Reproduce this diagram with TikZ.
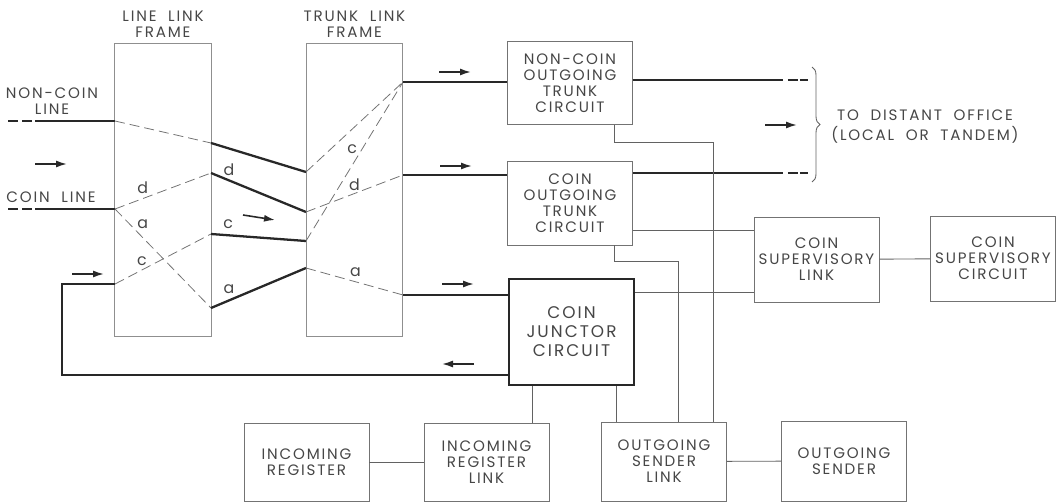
\documentclass[tikz,border=0pt]{standalone}
\usepackage{fontspec}
\setmainfont{Poppins}[LetterSpace=12,WordSpace=2]
\usetikzlibrary{arrows.meta,positioning,calc,decorations.pathreplacing}
\definecolor{inkdark}{RGB}{40,40,40}
\definecolor{inkgray}{RGB}{115,115,115}
\definecolor{inktext}{RGB}{70,70,70}
\tikzset{
  blk/.style={rectangle,draw=inkgray,line width=0.5pt,minimum width=25mm,
              minimum height=#1,inner sep=0pt,text=inktext,align=center,
              font=\fontsize{8.6}{9.2}\selectfont},
  blk/.default=16.5mm,
  bay/.style={rectangle,draw=inkgray!80,line width=0.45pt,minimum width=19.3mm,
              minimum height=58.6mm,inner sep=0pt},
  hdr/.style={text=inktext,align=center,inner sep=0pt,
              font=\fontsize{8.6}{9}\selectfont},
  wire/.style={inkdark,line width=1.3pt},
  xconn/.style={inkgray,line width=0.45pt,dash pattern=on 2mm off 1mm},
  link/.style={inkgray!85!black,line width=0.5pt},
  flow/.style={-{Latex[length=2.2mm,width=1.4mm]},inkdark,line width=0.9pt},
  tag/.style={text=inktext,inner sep=0pt,font=\fontsize{9}{9}\selectfont},
  lead/.style={wire,dash pattern=on 2mm off 0.8mm on 2mm off 0.6mm on 40mm},
  trail/.style={wire,dash pattern=on 30mm off 1mm on 2mm off 0.4mm on 1.6mm},
}
\begin{document}
\begin{tikzpicture}[x=0.2mm,y=-0.2mm]
  \useasboundingbox (0,0) rectangle (1058,502);

  % switching frames
  \node[bay] (llf) at (163,189.5) {};
  \node[bay] (tlf) at (354.5,189.5) {};
  \node[hdr,above=0.9mm of llf] (llfh) {LINE LINK\\FRAME};
  \node[hdr,above=0.9mm of tlf] (tlfh) {TRUNK LINK\\FRAME};

  % circuits
  \node[blk] (ncotc) at (570,83) {NON-COIN\\OUTGOING\\TRUNK\\CIRCUIT};
  \node[blk=16.8mm] (cotc) at (570,203) {COIN\\OUTGOING\\TRUNK\\CIRCUIT};
  \node[blk=21.2mm,draw=inkdark,line width=1.1pt,
        font=\fontsize{9.6}{10.8}\selectfont] (cjc) at (571.5,332)
        {COIN\\JUNCTOR\\CIRCUIT};
  \node[blk=17mm] (csl) at (816.5,259.5) {COIN\\SUPERVISORY\\LINK};
  \node[blk=17mm] (csc) at (993,258.5) {COIN\\SUPERVISORY\\CIRCUIT};
  \node[blk=15.6mm] (ir)  at (306.5,462) {INCOMING\\REGISTER};
  \node[blk=15.6mm] (irl) at (486.5,462) {INCOMING\\REGISTER\\LINK};
  \node[blk=15.8mm] (osl) at (664,461.5) {OUTGOING\\SENDER\\LINK};
  \node[blk=16mm]   (os)  at (844,461) {OUTGOING\\SENDER};

  % line names
  \node[hdr] (ncl) at (52,101) {NON-COIN\\LINE};
  \node[hdr] (cl)  at (51,197) {COIN LINE};

  % crosspoints on the frame edges
  \coordinate (nin) at (8,121);   \coordinate (cin) at (8,209);
  \coordinate (p1) at (115,121);  \coordinate (p2) at (115,209);
  \coordinate (p3) at (115,284);  \coordinate (lp) at (62,284);
  \coordinate (q1) at (211,143);  \coordinate (q2) at (211,173);
  \coordinate (q3) at (211,234);  \coordinate (q4) at (211,308);
  \coordinate (r1) at (306,172);  \coordinate (r2) at (306,212);
  \coordinate (r3) at (306,241);  \coordinate (r4) at (306,268);
  \coordinate (s1) at (403,82);   \coordinate (s2) at (403,175);
  \coordinate (s3) at (403,295);
  \coordinate (t1) at (808,80);   \coordinate (t2) at (808,173);

  % incoming lines
  \draw[lead] (nin) -- (p1);
  \draw[lead] (cin) -- (p2);

  % paths through the line link frame
  \draw[xconn] (p1) -- (q1);
  \draw[xconn] (p2) -- node[tag,pos=0.29,yshift=2.1mm]{d} (q2);
  \draw[xconn] (p2) -- node[tag,pos=0.29,yshift=2.7mm]{a} (q4);
  \draw[xconn] (p3) -- node[tag,pos=0.28,yshift=1.8mm]{c} (q3);

  % junctors between frames
  \draw[wire] (q1) -- (r1);
  \draw[wire] (q2) -- node[tag,pos=0.19,yshift=2.1mm]{d} (r2);
  \draw[wire] (q3) -- node[tag,pos=0.18,yshift=2.2mm]{c} (r3);
  \draw[wire] (q4) -- node[tag,pos=0.19,yshift=2.3mm]{a} (r4);

  % paths through the trunk link frame
  \draw[xconn] (r1) -- (s1);
  \draw[xconn] (r3) -- node[tag,pos=0.58,xshift=-2mm]{c} (s1);
  \draw[xconn] (r2) -- node[tag,pos=0.5,yshift=1.7mm]{d} (s2);
  \draw[xconn] (r4) -- node[tag,pos=0.51,yshift=2mm]{a} (s3);

  % trunks out
  \draw[wire] (s1) -- (s1 -| ncotc.west);
  \draw[wire] (s2) -- (s2 -| cotc.west);
  \draw[wire] (s3) -- (s3 -| cjc.west);
  \draw[trail] (t1 -| ncotc.east) -- (t1);
  \draw[trail] (t2 -| cotc.east) -- (t2);
  \draw[link,decorate,decoration={brace,amplitude=1.6mm}] (812,67) -- (812,182);
  \node[hdr,font=\fontsize{8.6}{11.3}\selectfont] (dst) at (925,127)
        {TO DISTANT OFFICE\\(LOCAL OR TANDEM)};

  % return loop from the coin junctor
  \draw[wire] (p3) -- (lp) |- ($(cjc.south west)+(0,-11)$);

  % control links
  \draw[link] ($(ncotc.south east)+(-19,0)$) -- ++(0,18)
              -| ($(osl.north east)+(-14,0)$);
  \draw[link] ($(cotc.south east)+(-19,0)$) -- ++(0,16)
              -| ($(osl.north)+(14,0)$);
  \draw[link] ($(cotc.east)+(0,27)$) coordinate (c1) -- (c1 -| csl.west);
  \draw[link] ($(cjc.east)+(0,-40)$) coordinate (c2) -- (c2 -| csl.west);
  \draw[link] (csl) -- (csc);
  \draw[link] ($(cjc.south west)+(24,0)$) coordinate (j1) -- (j1 |- irl.north);
  \draw[link] ($(cjc.south west)+(108,0)$) coordinate (j2) -- (j2 |- osl.north);
  \draw[link] (ir) -- (irl);
  \draw[link] (osl) -- (os);

  % direction of traffic
  \foreach \x/\y in {35/164, 72/274, 439/72, 440/166, 442/284, 765/125}
    \draw[flow] (\x,\y) -- ++(32,0);
  \draw[flow] (243,215) -- (275,220);
  \draw[flow] (474,364) -- ++(-32,0);
\end{tikzpicture}
\end{document}
